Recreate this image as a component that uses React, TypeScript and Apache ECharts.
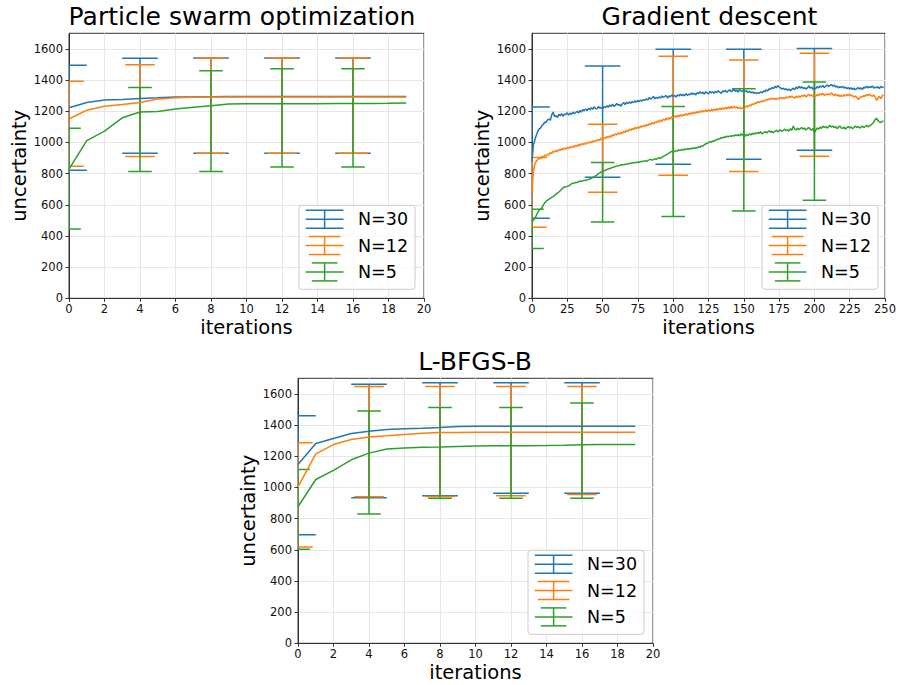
import React, { useEffect, useRef } from 'react';
import * as echarts from 'echarts';

const FONT = 'DejaVu Sans';
const COLORS = ['#1f77b4', '#ff7f0e', '#2ca02c'];
const seriesNames = ['N=30', 'N=12', 'N=5'];
const titles = ['Particle swarm optimization', 'Gradient descent', 'L-BFGS-B'];
const capHalf = [17.8, 14.8, 11.8];

// ---------- Particle swarm optimization ----------
const psoIter = [0, 1, 2, 3, 4, 5, 6, 7, 8, 9, 10, 11, 12, 13, 14, 15, 16, 17, 18, 19];
const psoN30 = [1222, 1256, 1272, 1275, 1282, 1286, 1291, 1292, 1293, 1294, 1294, 1294, 1294, 1294, 1294, 1294, 1294, 1294, 1294, 1294];
const psoN12 = [1150, 1207, 1232, 1243, 1256, 1278, 1286, 1290, 1291, 1291, 1291, 1291, 1291, 1291, 1291, 1291, 1291, 1291, 1291, 1291];
const psoN5 = [828, 1012, 1072, 1158, 1195, 1198, 1214, 1225, 1236, 1246, 1248, 1248, 1248, 1248, 1248, 1249, 1250, 1250, 1251, 1253];
const psoErrX = [0, 4, 8, 12, 16];
const psoN30Low = [821, 930, 930, 930, 930];
const psoN30High = [1495, 1540, 1542, 1542, 1542];
const psoN12Low = [847, 909, 930, 930, 930];
const psoN12High = [1393, 1499, 1542, 1542, 1542];
const psoN5Low = [445, 813, 813, 843, 843];
const psoN5High = [1091, 1352, 1459, 1472, 1472];

// ---------- Gradient descent ----------
const gdN30 = [
  880, 985, 1015, 1045, 1070, 1085, 1092, 1108, 1115, 1130,
  1128, 1145, 1150, 1142, 1178, 1195, 1165, 1172, 1160, 1180,
  1170, 1185, 1168, 1182, 1178, 1190, 1175, 1188, 1180, 1195,
  1185, 1192, 1200, 1188, 1205, 1195, 1210, 1202, 1215, 1205,
  1218, 1210, 1222, 1212, 1228, 1218, 1215, 1230, 1220, 1225,
  1215, 1230, 1222, 1235, 1225, 1240, 1230, 1245, 1232, 1238,
  1250, 1238, 1245, 1232, 1248, 1255, 1242, 1258, 1250, 1260,
  1252, 1262, 1255, 1268, 1258, 1270, 1262, 1272, 1265, 1275,
  1270, 1280, 1272, 1288, 1278, 1285, 1295, 1280, 1290, 1282,
  1292, 1285, 1298, 1288, 1295, 1300, 1285, 1298, 1292, 1305,
  1295, 1302, 1290, 1305, 1298, 1310, 1300, 1308, 1298, 1312,
  1302, 1310, 1305, 1318, 1308, 1315, 1305, 1320, 1312, 1325,
  1315, 1322, 1310, 1325, 1318, 1312, 1328, 1318, 1325, 1315,
  1328, 1320, 1332, 1322, 1315, 1330, 1325, 1335, 1322, 1330,
  1338, 1325, 1332, 1340, 1328, 1335, 1322, 1338, 1330, 1328,
  1335, 1325, 1332, 1320, 1328, 1318, 1325, 1315, 1322, 1312,
  1320, 1315, 1325, 1318, 1330, 1325, 1338, 1330, 1345, 1340,
  1352, 1345, 1360, 1350, 1365, 1355, 1350, 1342, 1348, 1338,
  1345, 1335, 1342, 1332, 1340, 1348, 1338, 1355, 1345, 1360,
  1348, 1358, 1345, 1352, 1342, 1350, 1362, 1348, 1355, 1340,
  1350, 1345, 1358, 1350, 1362, 1355, 1365, 1352, 1360, 1368,
  1358, 1365, 1372, 1360, 1368, 1355, 1362, 1350, 1358, 1352,
  1360, 1348, 1355, 1345, 1352, 1342, 1350, 1340, 1348, 1338,
  1345, 1352, 1342, 1350, 1340, 1355, 1348, 1360, 1350, 1358,
  1352, 1362, 1348, 1355, 1350, 1358, 1345, 1360, 1352, 1355,
];
const gdN12 = [
  690, 815, 860, 880, 888, 900, 895, 910, 905, 918,
  912, 925, 920, 935, 928, 945, 938, 950, 942, 955,
  948, 960, 952, 965, 958, 968, 962, 972, 965, 978,
  970, 982, 975, 988, 978, 992, 985, 995, 988, 1000,
  995, 1005, 998, 1010, 1002, 1015, 1008, 1020, 1012, 1028,
  1020, 1030, 1025, 1038, 1030, 1042, 1035, 1050, 1042, 1055,
  1048, 1060, 1052, 1065, 1058, 1072, 1065, 1078, 1070, 1085,
  1078, 1090, 1082, 1098, 1088, 1100, 1092, 1105, 1098, 1110,
  1102, 1115, 1108, 1122, 1112, 1128, 1118, 1132, 1125, 1138,
  1130, 1145, 1135, 1150, 1142, 1155, 1145, 1160, 1150, 1165,
  1158, 1170, 1162, 1175, 1165, 1178, 1168, 1180, 1172, 1185,
  1175, 1188, 1180, 1192, 1183, 1195, 1186, 1198, 1190, 1202,
  1193, 1205, 1196, 1208, 1198, 1210, 1200, 1212, 1202, 1215,
  1205, 1218, 1208, 1220, 1210, 1222, 1212, 1225, 1215, 1228,
  1218, 1230, 1220, 1232, 1222, 1228, 1218, 1225, 1215, 1222,
  1212, 1225, 1235, 1228, 1240, 1235, 1248, 1242, 1255, 1250,
  1262, 1255, 1265, 1260, 1270, 1265, 1278, 1272, 1280, 1275,
  1285, 1278, 1282, 1275, 1285, 1278, 1290, 1282, 1288, 1280,
  1292, 1285, 1295, 1288, 1298, 1290, 1285, 1295, 1288, 1298,
  1290, 1302, 1295, 1305, 1292, 1300, 1310, 1298, 1305, 1295,
  1302, 1295, 1308, 1300, 1312, 1305, 1315, 1302, 1310, 1305,
  1312, 1305, 1318, 1308, 1302, 1310, 1298, 1305, 1295, 1302,
  1295, 1305, 1298, 1308, 1300, 1310, 1298, 1302, 1290, 1298,
  1288, 1275, 1285, 1295, 1290, 1302, 1295, 1308, 1300, 1310,
  1302, 1295, 1305, 1290, 1270, 1285, 1295, 1280, 1298, 1305,
];
const gdN5 = [
  490, 502, 512, 530, 550, 565, 572, 580, 598, 612,
  622, 630, 636, 640, 648, 652, 660, 668, 674, 682,
  690, 700, 708, 714, 716, 718, 722, 728, 735, 738,
  740, 744, 742, 748, 752, 750, 755, 758, 756, 760,
  762, 765, 770, 775, 778, 785, 792, 800, 805, 812,
  815, 818, 822, 825, 830, 832, 836, 840, 842, 845,
  848, 850, 852, 855, 858, 856, 860, 862, 865, 863,
  866, 868, 870, 872, 870, 875, 873, 877, 878, 880,
  882, 878, 885, 888, 892, 886, 890, 895, 892, 898,
  902, 898, 905, 910, 915, 920, 925, 932, 938, 942,
  945, 940, 948, 944, 952, 948, 955, 950, 958, 954,
  960, 956, 962, 958, 965, 960, 968, 964, 972, 968,
  978, 975, 985, 990, 995, 998, 1005, 1002, 1010, 1008,
  1015, 1020, 1018, 1025, 1030, 1028, 1035, 1032, 1040, 1036,
  1042, 1038, 1045, 1040, 1048, 1044, 1050, 1042, 1055, 1046,
  1058, 1040, 1050, 1045, 1055, 1048, 1058, 1052, 1062, 1055,
  1065, 1058, 1068, 1055, 1062, 1070, 1060, 1068, 1075, 1065,
  1072, 1062, 1070, 1078, 1068, 1075, 1080, 1070, 1078, 1085,
  1075, 1082, 1072, 1088, 1078, 1105, 1085, 1080, 1092, 1082,
  1088, 1095, 1085, 1092, 1080, 1088, 1095, 1085, 1078, 1090,
  1062, 1080, 1092, 1085, 1098, 1090, 1105, 1095, 1102, 1092,
  1100, 1110, 1098, 1105, 1095, 1102, 1088, 1098, 1105, 1092,
  1090, 1098, 1085, 1095, 1102, 1092, 1100, 1088, 1096, 1105,
  1095, 1102, 1092, 1098, 1105, 1095, 1102, 1110, 1100, 1108,
  1112, 1120, 1130, 1148, 1155, 1140, 1132, 1128, 1135, 1138,
];
const gdErrX = [0, 50, 100, 150, 200];
const gdN30Low = [513, 776, 860, 892, 950];
const gdN30High = [1228, 1491, 1598, 1598, 1602];
const gdN12Low = [456, 680, 789, 813, 911];
const gdN12High = [903, 1117, 1553, 1529, 1572];
const gdN5Low = [319, 490, 524, 560, 629];
const gdN5High = [571, 871, 1230, 1345, 1388];

// ---------- L-BFGS-B ----------
const lbIter = [0, 1, 2, 3, 4, 5, 6, 7, 8, 9, 10, 11, 12, 13, 14, 15, 16, 17, 18, 19];
const lbN30 = [1147, 1282, 1314, 1346, 1361, 1371, 1377, 1379, 1384, 1390, 1392, 1392, 1392, 1392, 1392, 1392, 1392, 1392, 1392, 1392];
const lbN12 = [1004, 1215, 1275, 1307, 1324, 1331, 1339, 1347, 1352, 1353, 1354, 1354, 1354, 1354, 1354, 1354, 1354, 1354, 1354, 1354];
const lbN5 = [876, 1051, 1109, 1177, 1220, 1247, 1253, 1258, 1260, 1263, 1266, 1267, 1268, 1268, 1269, 1271, 1274, 1275, 1276, 1276];
const lbErrX = [0, 4, 8, 12, 16];
const lbN30Low = [696, 933, 946, 963, 963];
const lbN30High = [1459, 1662, 1672, 1672, 1672];
const lbN12Low = [617, 940, 942, 946, 955];
const lbN12High = [1286, 1647, 1647, 1647, 1647];
const lbN5Low = [604, 829, 931, 931, 931];
const lbN5High = [1115, 1491, 1512, 1512, 1542];

const yTicks = [0, 200, 400, 600, 800, 1000, 1200, 1400, 1600];

// layout
const grids = [
  { left: 69, top: 33.3, width: 355, height: 265 },
  { left: 532, top: 33.3, width: 355, height: 265 },
  { left: 298, top: 378.3, width: 355, height: 265 },
];
const titleCenters = [242, 709.5, 475];
const titleTops = [4, 4, 349];

const range = (n: number) => Array.from({ length: n }, (_, i) => i);

export default function App() {
  const ref = useRef<HTMLDivElement>(null);

  useEffect(() => {
    if (!ref.current) return;
    const chart = echarts.init(ref.current, undefined, { renderer: 'svg' });

    const panels = [
      {
        xs: psoIter, lines: [psoN30, psoN12, psoN5], errX: psoErrX,
        lows: [psoN30Low, psoN12Low, psoN5Low], highs: [psoN30High, psoN12High, psoN5High],
        xMax: 20, xInterval: 2,
      },
      {
        xs: range(gdN30.length), lines: [gdN30, gdN12, gdN5], errX: gdErrX,
        lows: [gdN30Low, gdN12Low, gdN5Low], highs: [gdN30High, gdN12High, gdN5High],
        xMax: 250, xInterval: 25,
      },
      {
        xs: lbIter, lines: [lbN30, lbN12, lbN5], errX: lbErrX,
        lows: [lbN30Low, lbN12Low, lbN5Low], highs: [lbN30High, lbN12High, lbN5High],
        xMax: 20, xInterval: 2,
      },
    ];

    const axisLineStyle = { color: '#333', width: 1 };
    const labelStyle = { fontSize: 11.5, fontFamily: FONT, color: '#111' };
    const splitLine = { show: true, lineStyle: { color: '#e6e6e6', width: 1 } };
    const fmt = (v: number) => String(v);

    const xAxis = panels.map((p, i) => ({
      type: 'value', gridIndex: i, min: 0, max: p.xMax, interval: p.xInterval,
      name: 'iterations', nameLocation: 'middle', nameGap: 19,
      nameTextStyle: { fontSize: 19.5, fontFamily: FONT, color: '#000', verticalAlign: 'top' },
      axisLine: { show: true, onZero: false, lineStyle: axisLineStyle },
      axisTick: { show: true, length: 3.5, lineStyle: axisLineStyle },
      axisLabel: { ...labelStyle, margin: 5, formatter: fmt },
      splitLine,
    }));
    const yAxis = panels.map((_, i) => ({
      type: 'value', gridIndex: i, min: 0, max: 1700, interval: 200,
      name: 'uncertainty', nameLocation: 'middle', nameGap: 38,
      nameTextStyle: { fontSize: 19.5, fontFamily: FONT, color: '#000' },
      axisLine: { show: true, onZero: false, lineStyle: axisLineStyle },
      axisTick: { show: true, length: 3.5, lineStyle: axisLineStyle, customValues: yTicks },
      axisLabel: { ...labelStyle, margin: 6, customValues: yTicks, formatter: fmt },
      splitLine,
    }));

    const series: any[] = [];
    panels.forEach((p, pi) => {
      p.lines.forEach((vals, si) => {
        const color = COLORS[si];
        series.push({
          type: 'line', name: seriesNames[si], xAxisIndex: pi, yAxisIndex: pi,
          data: vals.map((v, k) => [p.xs[k], v]),
          showSymbol: false, symbol: 'none', clip: true, z: 3,
          lineStyle: { color, width: 1.5 },
        });
        const half = capHalf[si];
        series.push({
          type: 'custom', xAxisIndex: pi, yAxisIndex: pi, clip: true, z: 3, silent: true,
          data: p.errX.map((x, k) => [x, p.lows[si][k], p.highs[si][k]]),
          encode: { x: 0, y: [1, 2] },
          renderItem: (params: any, api: any) => {
            const cs = params.coordSys;
            const x = api.value(0);
            const lo = api.coord([x, api.value(1)]);
            const hi = api.coord([x, api.value(2)]);
            const style = { stroke: color, lineWidth: 1.5, fill: 'none' };
            const x1 = Math.max(lo[0] - half, cs.x);
            const x2 = Math.min(lo[0] + half, cs.x + cs.width);
            return {
              type: 'group',
              children: [
                { type: 'line', shape: { x1: lo[0], y1: lo[1], x2: hi[0], y2: hi[1] }, style },
                { type: 'line', shape: { x1, y1: hi[1], x2, y2: hi[1] }, style },
                { type: 'line', shape: { x1, y1: lo[1], x2, y2: lo[1] }, style },
              ],
            };
          },
        });
      });
    });

    // legends drawn as graphic elements
    const graphic: any[] = [];
    grids.forEach((g) => {
      const bw = 116, bh = 84;
      const bx = g.left + g.width - 9 - bw;
      const by = g.top + g.height - 9 - bh;
      graphic.push({
        type: 'rect', z: 100,
        shape: { x: bx, y: by, width: bw, height: bh, r: 3 },
        style: { fill: 'rgba(255,255,255,0.8)', stroke: '#cccccc', lineWidth: 1 },
      });
      seriesNames.forEach((name, si) => {
        const cy = by + 14 + si * 26.3;
        const cx = bx + 25.6;
        const st = { stroke: COLORS[si], lineWidth: 1.5 };
        const h = capHalf[si] + 1;
        graphic.push(
          { type: 'line', z: 101, shape: { x1: bx + 6.7, y1: cy, x2: bx + 44.5, y2: cy }, style: st },
          { type: 'line', z: 101, shape: { x1: cx, y1: cy - 9, x2: cx, y2: cy + 9 }, style: st },
          { type: 'line', z: 101, shape: { x1: cx - h, y1: cy - 9, x2: cx + h, y2: cy - 9 }, style: st },
          { type: 'line', z: 101, shape: { x1: cx - h, y1: cy + 9, x2: cx + h, y2: cy + 9 }, style: st },
          {
            type: 'text', z: 101, x: bx + 59, y: cy,
            style: { text: name, fontSize: 17.5, fontFamily: FONT, fill: '#000', verticalAlign: 'middle', align: 'left' },
          },
        );
      });
    });

    chart.setOption({
      animation: false,
      backgroundColor: '#ffffff',
      title: titles.map((t, i) => ({
        text: t,
        left: titleCenters[i],
        top: titleTops[i],
        textAlign: 'center',
        padding: 0,
        textStyle: { fontSize: 25, fontWeight: 'normal', fontFamily: FONT, color: '#000' },
      })),
      grid: grids.map((g) => ({
        ...g, show: true, borderColor: '#333', borderWidth: 1, backgroundColor: '#fff', containLabel: false,
      })),
      xAxis,
      yAxis,
      series,
      graphic,
    });

    return () => chart.dispose();
  }, []);

  return <div ref={ref} style={{ position: 'absolute', left: 0, top: 0, width: 899, height: 685 }} />;
}
